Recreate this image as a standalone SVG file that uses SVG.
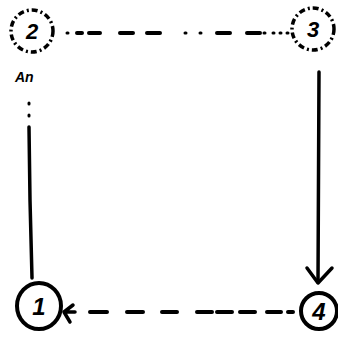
<svg xmlns="http://www.w3.org/2000/svg" width="338" height="337" viewBox="0 0 338 337">
<style>
.node{fill:none;stroke:#000;stroke-width:4}
.faint{fill:none;stroke:#000;stroke-width:3.5;stroke-dasharray:6 3 2 3}
.lbl{font-family:"Liberation Sans",Arial,sans-serif;font-weight:bold;font-style:italic;font-size:24px;fill:#000;text-anchor:middle}
.flbl{font-family:"Liberation Sans",Arial,sans-serif;font-weight:bold;font-style:italic;font-size:22px;fill:#000;text-anchor:middle}
.line{fill:none;stroke:#000;stroke-width:3.5;stroke-linecap:round;stroke-linejoin:round}
.dash{fill:none;stroke:#000;stroke-width:4;stroke-linecap:round}
.dot{fill:none;stroke:#000;stroke-width:3;stroke-linecap:round}
.note{font-family:"Liberation Sans",Arial,sans-serif;font-weight:bold;font-style:italic;font-size:14px;fill:#000}
</style>
<rect width="338" height="337" fill="#fff"/>
<g id="connectors">
  <g id="edge-2-3">
    <path class="dot" d="M67 33h1M185 33h1M200 33h1M264 33h1M273 33h1M280 33h1M287 33h1"/>
    <path class="dash" d="M77 33h5M89 33h11M120 33h13M147 33h13M217 33h13M247 33h13"/>
  </g>
  <g id="edge-1-2">
    <path class="dot" d="M29 103v1M29 115v1"/>
    <path class="line" d="M29 127L30 200L32 278" stroke-width="3.5"/>
  </g>
  <g id="edge-3-4">
    <path class="line" d="M319 72L318 282" stroke-width="4.5"/>
    <path class="line" d="M307 268L318 283L332 268" stroke-width="4.5"/>
  </g>
  <g id="edge-4-1">
    <path class="dash" d="M90 312h17M127 312h16M162 312h15M197 312h15M217 312h15M240 312h15M267 312h14M288 312h5"/>
    <path class="line" d="M73 305L64 312L70 322M65 312h10" stroke-width="3.5"/>
  </g>
</g>
<g id="node-2">
  <circle class="faint" cx="32" cy="31" r="21"/>
  <text class="flbl" x="32" y="39">2</text>
</g>
<g id="node-3">
  <circle class="faint" cx="313" cy="29" r="21"/>
  <text class="flbl" x="313" y="37">3</text>
</g>
<g id="node-1">
  <ellipse class="node" cx="39" cy="306" rx="22" ry="23"/>
  <text class="lbl" x="39" y="315" font-size="26">1</text>
</g>
<g id="node-4">
  <circle class="node" cx="319" cy="311" r="18" stroke-width="4.5"/>
  <text class="lbl" x="319" y="320">4</text>
</g>
<text class="note" x="15" y="82">An</text>
</svg>
